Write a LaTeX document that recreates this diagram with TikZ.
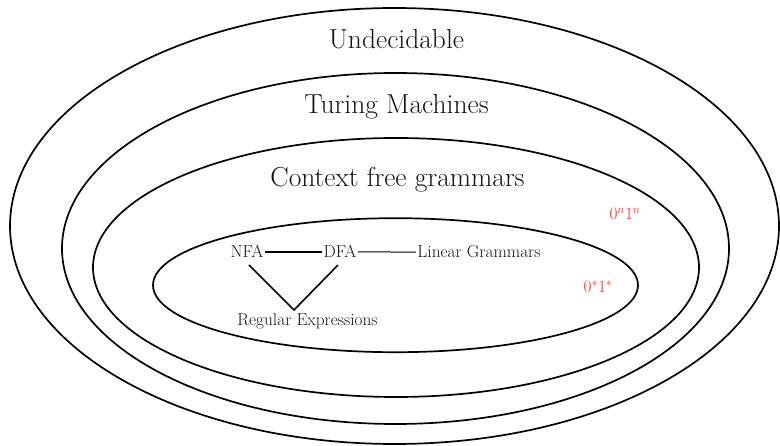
\documentclass[tikz,border=0pt]{standalone}
\begin{document}
\begin{tikzpicture}[x=1pt,y=-1pt,
  ring/.style={draw=black,line width=1.7pt},
  big/.style={font=\fontsize{27.5}{32}\selectfont,text=black!92,anchor=base,inner sep=0pt},
  small/.style={font=\fontsize{17.3}{20}\selectfont,text=black!92,anchor=base,inner sep=1.5pt},
  lang/.style={font=\fontsize{18}{21}\selectfont,text=red!85,anchor=base,inner sep=0pt},
  link/.style={line width=1.6pt},
  thinlink/.style={line width=1pt}]
\useasboundingbox (0,0) rectangle (780,446);
\draw[ring] (394.5,226) ellipse [x radius=384.5,y radius=218];
\draw[ring] (395.5,248.5) ellipse [x radius=333.5,y radius=175.5];
\draw[ring] (396,267.5) ellipse [x radius=303,y radius=129.5];
\draw[ring] (395.5,285.2) ellipse [x radius=242.5,y radius=67];
\node[big] (und) at (396.5,49) {Undecidable};
\node[big] (tm) at (396.5,114) {Turing Machines};
\node[big] (cfg) at (397.5,187) {Context free grammars};
\node[lang] (anbn) at (625,220) {$0^n1^n$};
\node[lang] (astar) at (598,293) {$0^*1^*$};
\node[small] (nfa) at (247,258) {NFA};
\node[small] (dfa) at (340,258) {DFA};
\node[small] (lin) at (479,258) {Linear Grammars};
\node[small] (re) at (307.5,326) {Regular Expressions};
\coordinate (v) at (294,310);
\draw[link] (nfa) -- (dfa);
\draw[thinlink] (dfa.east) -- (lin.west);
\draw[link] (249,265) -- (v) -- (338,265);
\end{tikzpicture}
\end{document}
